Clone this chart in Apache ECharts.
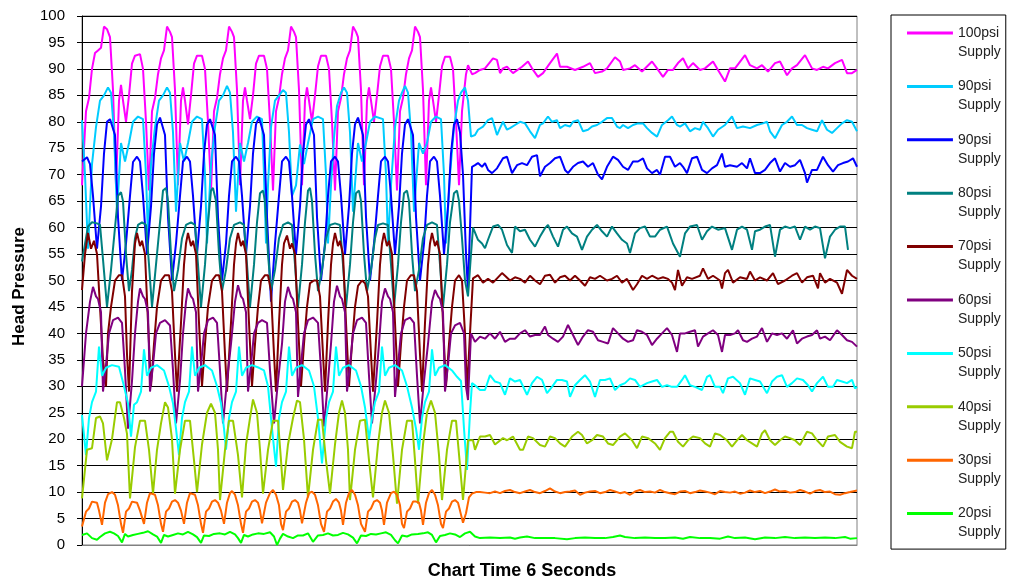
<!DOCTYPE html>
<html><head><meta charset="utf-8">
<script src="https://cdn.jsdelivr.net/npm/echarts@6/dist/echarts.min.js"></script>
<style>html,body{margin:0;padding:0;background:#fff}#c{width:1011px;height:584px}</style>
</head><body><div id="c"></div>
<script>
// Time axis: sample index over the 6 s window (0..775). Values: head pressure.
const timeMax = 775;
const yTicks = {min: 0, max: 100, step: 5};
const xTitle = 'Chart Time 6 Seconds';
const yTitle = 'Head Pressure';
const seriesNames = ['100psi Supply','90psi Supply','90psi Supply ','80psi Supply','70psi Supply','60psi Supply','50psi Supply','40psi Supply','30psi Supply','20psi Supply'];
const seriesColors = ['#FF00FF','#00CCFF','#0000FF','#008080','#800000','#800080','#00FFFF','#99CC00','#FF6600','#00FF00'];

const psi100 = [[0,68],[4,82],[7,84.5],[10,90],[13,93],[16,93.5],[19,94],[22,98],[25,97.5],[28,96],[31,86],[34,68],[37,84],[39,87],[41,84],[44,80],[47,85],[50,91],[53,92.5],[58,92.8],[61,90],[64,80],[67,67],
[70,82],[73,84.5],[76,89],[79,92],[82,93.5],[85,98],[88,97],[90,96],[93,86],[96,68],[99,84],[101,86.5],[103,84],[106,79.5],[109,85],[112,91],[115,92.5],[120,92.5],[123,90],[126,80],[129,67],
[132,82],[135,84.5],[138,89],[141,92],[144,93.5],[147,98],[150,97],[152,96],[155,86],[158,68],[161,84],[163,86.5],[165,84],[168,80.5],[171,85],[174,91],[177,92.5],[182,92.5],[185,90],[188,80],[191,67],
[194,82],[197,84.5],[200,89],[203,92],[206,93.5],[209,98],[212,97],[214,96],[217,86],[220,68],[223,84],[225,86.5],[227,84],[230,80],[233,85],[236,90.5],[239,92.5],[244,92.5],[247,90],[250,80],[253,67],
[256,82],[259,84.5],[262,89],[265,92],[268,93.5],[271,98],[274,97],[276,96],[279,86],[282,68],[285,84],[287,86.5],[289,84],[292,80],[295,85],[298,90.5],[301,92.5],[306,92.5],[309,90],[312,80],[315,67],
[318,82],[321,84.5],[324,89],[327,92],[330,93.5],[333,98],[336,97],[338,96],[341,86],[344,68],[347,84],[349,86.5],[351,84],[354,80],[357,85],[360,90.5],[363,92.3],[368,92.3],[371,90],[374,80],[377,68],
[380,82],[384,89],[386,90.7],[390,89],[393,89.2],[398,89.8],[403,90.1],[411,92],[415,91.7],[418,89.2],[421,90.1],[425,90.4],[431,89.2],[440,90.4],[446,91.4],[450,90.1],[456,88.5],[461,89.2],[468,91.1],[475,92.9],[478,90.4],[485,90.4],[493,89.8],[501,90.4],[508,91.1],[513,89.2],[520,89.5],[525,90.1],[533,92.2],[538,91.4],[541,89.8],[548,90.1],[553,90.7],[560,89.5],[570,91.4],[575,90.1],[581,88.5],[586,89.8],[591,89.8],[596,91.1],[601,92],[606,90.1],[611,91.1],[618,89.8],[623,90.1],[631,91.4],[636,89.8],[643,87.6],[648,90.1],[653,90.1],[663,92.6],[668,90.7],[675,90.1],[680,90.7],[686,89.5],[693,91.1],[698,91.4],[705,88.8],[710,90.1],[715,90.7],[723,92.6],[730,90.1],[735,89.8],[741,90.4],[746,90.1],[753,91.1],[760,91.7],[765,89.2],[770,89.2],[775,89.8]];

const psi90a = [[0,80.3],[3,70],[6,56],[10,72],[14,79],[18,84],[22,85],[26,86.5],[29,85.5],[32,78],[35,63],[39,76],[43,72.5],[47,76],[51,80],[56,81],[61,80.5],[64,70],[66,58],
[69,72],[73,79],[77,84],[81,85],[85,86.5],[88,85.5],[91,78],[94,63],[98,76],[102,72.5],[106,76],[110,80],[115,81],[120,80.5],[123,70],[125,57],
[129,72],[133,79],[137,84],[141,85],[145,86.8],[148,85.5],[151,78],[154,63],[158,76],[162,72.5],[166,76],[170,80],[175,81],[180,80.5],[182,70],[184,57],
[186,68],[189,79],[193,84],[197,85],[201,86],[204,85.5],[207,78],[210,66],[214,68],[218,75.7],[222,72],[226,76],[231,80.5],[236,81],[241,80.5],[244,70],[246,57],
[249,68],[252,77],[255,83],[259,85.5],[262,86.5],[265,85.5],[268,78],[271,63],[276,76],[280,72.5],[284,76],[288,80],[293,81],[301,80.5],[304,70],[306,57],
[309,68],[313,79],[317,84],[320,85.5],[323,86.8],[326,85.5],[329,78],[332,63],[337,76],[341,74],[345,76],[349,80],[354,81],[359,80.5],[362,70],[364,57],
[368,70],[372,79],[376,84],[379,85.5],[383,86.5],[386,84],[389,77.2],[393,77.5],[396,78.5],[401,79.1],[406,80.3],[410,80.7],[413,78.8],[415,77.5],[418,78.8],[421,80.0],[425,78.5],[428,78.8],[433,79.4],[438,80.0],[443,79.7],[448,78.2],[453,76.9],[458,79.4],[461,79.7],[466,81.0],[470,80.0],[475,80.3],[478,78.8],[483,79.4],[488,79.1],[491,80.0],[496,80.3],[501,78.2],[506,78.5],[510,79.1],[515,79.4],[520,80.0],[525,80.7],[530,80.7],[535,79.1],[538,78.8],[541,79.4],[546,78.8],[551,79.4],[556,79.7],[561,79.7],[565,78.8],[570,77.9],[575,77.2],[580,79.4],[586,80.3],[590,81.0],[595,79.4],[598,79.1],[603,79.7],[608,78.2],[613,78.8],[618,78.5],[621,80.0],[626,78.8],[631,77.2],[636,78.5],[643,79.4],[650,81.0],[655,78.8],[661,79.1],[668,78.8],[675,79.4],[681,79.7],[685,80.0],[688,78.2],[693,76.9],[700,79.4],[705,80.0],[710,81.0],[715,79.4],[720,79.4],[725,78.8],[730,78.5],[735,78.2],[740,80.3],[745,78.5],[750,77.9],[755,78.8],[760,79.7],[765,80.3],[770,80.0],[775,78.2]];

const psi90b = [[0,72.5],[5,73.3],[8,72],[11,66],[15,56],[19,64],[22,74],[25,80],[28,80.5],[30,80.3],[33,77.5],[36,62],[40,50],[44,57],[48,66],[51,72.4],[55,73.4],[58,72.5],[61,66],[65,55],[69,64],[72,74],[75,79.5],[78,80.8],[80,80.5],[83,77.5],[86,62],[90,50],[94,57],
[98,66],[101,72.5],[105,73.4],[108,72.5],[111,66],[115,55],[119,64],[122,74],[125,79.5],[128,80.5],[130,80.3],[133,77.5],[136,62],[140,50],[144,57],
[147,66],[150,72.5],[154,73.4],[157,72.5],[160,66],[164,55],[168,64],[171,74],[174,79.5],[177,80.8],[179,80.5],[182,77.5],[185,62],[189,46],[193,57],
[197,66],[200,72.5],[204,73.4],[207,72.5],[210,66],[214,55],[218,64],[221,74],[224,79.5],[227,80.5],[229,80.3],[232,77.5],[235,62],[239,50],[243,57],
[246,66],[249,72.5],[253,73.4],[256,72.5],[259,66],[263,55],[267,64],[270,74],[273,79.5],[276,80.8],[278,80.5],[281,77.5],[284,62],[288,50],[292,57],
[296,66],[299,72.5],[303,73.4],[306,72.5],[309,66],[313,55],[317,64],[320,74],[323,79.5],[326,80.5],[328,80.3],[331,77.5],[334,62],[338,50],[342,57],
[345,66],[348,72.5],[352,73.4],[355,72.5],[358,66],[362,55],[366,64],[369,74],[372,79.5],[375,80.5],[378,78],[381,70],[384,55],[386,48],[388,60],[390,71.5],
[393,71.8],[396,72.2],[400,71.5],[403,72.2],[406,70.9],[410,70.3],[415,71.2],[421,73.1],[425,73.4],[430,70.3],[435,71.8],[440,72.2],[445,71.8],[450,73.4],[455,73.7],[458,69.7],[463,71.5],[468,72.2],[473,73.1],[478,73.4],[483,70.9],[486,70.3],[491,71.5],[496,72.2],[501,72.5],[506,71.5],[511,72.2],[516,70.0],[520,69.1],[525,71.5],[531,73.4],[536,72.8],[541,71.5],[546,70.9],[551,72.5],[556,72.5],[561,73.1],[565,71.2],[570,70.3],[575,70.9],[578,70.0],[583,73.4],[588,73.4],[593,71.5],[598,72.2],[601,71.5],[605,70.3],[610,73.1],[615,73.4],[620,70.9],[625,70.3],[630,71.2],[635,71.8],[640,74.0],[643,71.5],[648,71.8],[655,71.5],[660,72.2],[665,71.2],[668,73.1],[673,70.3],[678,70.3],[683,70.9],[688,72.2],[693,73.1],[698,70.6],[703,72.2],[708,71.5],[713,71.8],[718,72.8],[723,70.3],[725,68.5],[730,70.9],[735,70.9],[741,73.4],[746,71.8],[751,70.6],[756,71.8],[761,72.2],[766,72.5],[771,73.1],[775,71.5]];

const psi80 = [[0,53.6],[6,60.2],[10,61],[15,60.8],[18,60.5],[21,54],[25,45],[29,52],[33,60],[36,66],[39,66.7],[41,65],[44,55],[47,48],[50,52],[53,58],[56,60.5],[60,61],[64,60.5],[67,53],[70,45],[74,53],[78,61],[81,67],[84,67.5],[86,65],[89,55],[92,48],[96,52],[100,58],[104,60.5],[109,61],[113,60.5],[116,53],[119,45],[123,53],[126,61],[129,67],[131,67.5],[134,65],[137,55],[140,48],[144,52],[148,58],[152,60.5],[158,61],[162,60.5],[165,53],[168,45],[172,53],[175,61],[178,66.5],[181,67],[183,65],[186,55],[189,48],[193,52],[197,58],[201,60.5],[206,61],[210,60.5],[213,53],[216,45],[220,53],[223,61],[226,67],[228,67.5],[230,65],[233,55],[236,48],[240,52],[244,58],[248,60.5],[253,60.8],[258,60.5],[261,53],[264,45],[268,53],[271,61],[274,66.5],[277,67],[279,65],[282,55],[285,48],[289,52],[293,58],[296,60.5],[301,60.8],[306,60.5],[309,53],[312,45],[316,53],[319,61],[322,66.5],[325,67],[327,65],[330,55],[333,48],[337,52],[341,58],[345,60.5],[350,61],[355,60.5],[358,53],[361,45],[365,53],[368,61],[372,66.5],[375,67],[377,65],[380,58],[383,50],[386,47],[389,55],[391,60],
[393,60.2],[396,57.7],[400,57.0],[403,56.1],[406,57.7],[411,60.2],[416,60.5],[420,59.6],[425,56.7],[430,55.2],[433,60.2],[438,59.3],[443,59.6],[448,57.7],[453,56.4],[458,58.3],[463,59.9],[466,60.5],[471,58.3],[476,56.4],[481,59.6],[485,60.2],[490,58.9],[495,58.3],[500,55.8],[505,58.3],[510,59.6],[515,60.5],[520,59.3],[525,58.3],[530,60.2],[535,58.9],[540,57.7],[545,57.0],[548,55.2],[553,58.9],[558,59.9],[563,60.2],[568,58.3],[573,58.3],[578,59.6],[585,60.2],[591,57.0],[598,54.5],[603,58.9],[608,60.2],[615,60.5],[620,57.7],[625,59.3],[630,60.2],[636,59.6],[643,59.9],[650,55.8],[655,59.6],[660,60.2],[665,59.6],[670,55.8],[673,59.3],[678,59.6],[683,60.2],[688,60.5],[693,54.5],[698,59.6],[703,60.2],[708,59.9],[713,60.2],[718,57.7],[723,60.2],[728,59.6],[733,60.2],[738,59.9],[743,54.2],[748,58.3],[753,59.6],[758,60.2],[763,60.2],[766,55.8]];

const psi70 = [[0,48.2],[3,55],[6,59],[9,56],[12,57.5],[15,55],[18,45],[21,35],[24,30],[26,40],[29,45],[33,50],[37,51],[40,51],[43,47],[45,36],[47,29],[50,48],[53,57],[55,59],[58,56.5],[60,57.5],[63,55],[66,42],[69,30],[72,38],[75,45],[79,50],[83,51],[87,51],[90,48],[93,36],[95,29],[99,42],[102,53],[104,57],[106,59],[109,56.5],[111,57.5],[114,55],[117,42],[120,30],[123,38],[126,45],[130,50],[134,51],[137,51],[140,48],[143,36],[145,29],[149,42],[152,53],[154,57],[156,59],[159,56.5],[161,57.5],[164,55],[167,42],[170,30],[173,38],[176,45],[179,50],[183,51],[186,51],[189,48],[192,36],[194,29],[197,42],[200,53],[202,57],[205,58.5],[208,56],[210,57],[213,55],[216,42],[219,30],[222,38],[225,45],[228,49.5],[232,50],[235,50],[238,47],[241,36],[243,29],[246,42],[249,53],[251,57],[253,59],[256,56.5],[258,57.5],[261,55],[264,42],[267,30],[270,38],[273,45],[276,49],[280,50],[283,49.5],[286,47],[289,36],[291,29],[295,42],[298,53],[300,57],[302,59],[305,56.5],[307,57.5],[310,55],[313,42],[316,30],[319,38],[322,45],[325,50],[329,51],[332,51],[335,48],[338,36],[340,29],[343,42],[346,53],[348,57],[350,59],[353,56.5],[355,57.5],[358,55],[361,42],[364,30],[367,38],[370,45],[373,50],[377,51],[380,50],[383,40],[385,29],[388,40],[391,50.4],
[396,51.0],[401,49.6],[406,50.3],[411,49.6],[416,50.6],[420,51.4],[423,50.9],[428,50.0],[433,50.6],[438,50.3],[443,49.6],[448,50.9],[453,50.0],[458,49.3],[463,50.9],[468,51.1],[473,49.6],[478,50.6],[483,50.9],[488,50.0],[493,50.9],[498,50.0],[503,49.0],[508,50.6],[513,50.3],[518,50.9],[525,50.0],[530,50.3],[535,50.9],[540,49.6],[545,50.3],[551,48.2],[555,49.3],[560,50.9],[565,50.3],[570,50.9],[576,50.3],[581,50.6],[586,50.3],[590,49.6],[593,48.2],[596,52.0],[600,49.0],[605,50.6],[610,50.3],[618,50.9],[621,52.3],[626,50.3],[631,50.9],[638,50.0],[640,48.5],[643,51.4],[646,52.0],[651,49.6],[658,50.6],[665,50.3],[668,51.7],[673,50.0],[678,50.6],[685,50.0],[691,51.4],[696,49.3],[703,50.0],[710,50.9],[715,51.4],[720,49.6],[725,50.6],[731,50.9],[736,48.5],[738,51.4],[743,49.6],[748,50.3],[755,49.6],[760,47.5],[765,52.0],[770,50.9],[775,50.3]];

const psi60 = [[0,30],[4,40],[8,46],[11,48.8],[14,47],[16,46.5],[19,44],[21,29],[24,34],[27,40],[31,42.5],[36,43],[40,42],[43,33],[46,22],[50,31],[53,40],[56,46],[58,48.5],[61,47],[63,46.5],[66,44],[68,29],[71,34],[74,40],[78,42],[83,42.5],[88,41.5],[91,33],[94,23],[98,31],[101,40],[104,46],[106,48.5],[109,47],[111,46.5],[114,44],[116,29],[119,34],[122,40],[126,42.5],[131,43],[135,42],[138,33],[141,23],[145,31],[149,38],[153,46],[156,49.1],[159,47],[161,46.5],[164,44],[166,29],[169,34],[172,40],[176,42],[180,42.5],[185,42],[188,33],[192,23],[196,31],[200,38],[203,46],[206,48.8],[209,47],[211,46.5],[214,44],[216,28],[219,34],[222,40],[226,42.5],[231,43],[236,42],[239,33],[242,22.4],[246,31],[249,38],[252,46],[255,49],[258,47],[260,46.5],[263,44],[265,29],[268,34],[271,40],[275,42.5],[280,43],[284,42],[287,32],[290,23],[294,31],[297,38],[300,46],[303,48.5],[306,47],[308,46.5],[311,44],[313,28],[316,34],[319,40],[323,42.5],[328,43],[332,42],[335,32],[338,23],[342,31],[346,38],[350,46],[353,48.2],[356,47],[358,46.5],[361,44],[363,29],[366,34],[369,40],[373,41.5],[378,42],[382,40],[384,30],[386,27.4],[389,40],
[393,38.4],[398,39.4],[403,39.0],[408,40.0],[413,39.0],[418,40.3],[423,38.4],[428,39.0],[433,39.0],[438,40.0],[443,40.6],[448,39.4],[453,39.7],[458,39.7],[463,41.3],[466,39.7],[471,39.0],[476,38.4],[481,39.4],[486,41.6],[491,39.7],[496,37.8],[501,39.4],[506,40.6],[511,40.3],[516,38.7],[521,38.4],[526,38.1],[531,41.0],[536,40.0],[541,39.0],[546,38.4],[551,38.7],[555,40.6],[560,40.3],[565,39.7],[570,37.8],[575,39.0],[580,40.0],[585,41.0],[590,39.7],[595,36.5],[598,40.0],[603,40.0],[608,40.3],[613,40.6],[616,37.5],[621,39.4],[626,40.0],[631,40.6],[636,39.7],[640,36.5],[643,39.7],[648,39.7],[653,40.0],[656,40.6],[661,38.7],[665,38.4],[670,39.0],[675,39.4],[680,41.0],[685,38.4],[690,40.0],[695,39.7],[700,40.0],[705,39.0],[711,40.6],[715,38.1],[720,39.0],[725,39.4],[730,39.7],[735,40.6],[738,39.0],[743,39.4],[748,38.7],[755,40.6],[760,39.7],[765,38.7],[770,38.4],[775,37.5]];

const psi50 = [[0,24.6],[4,17],[7,24],[10,27],[14,29],[17,37.5],[20,32],[24,33.5],[30,34],[37,33.7],[42,30],[46,26.8],[49,20.5],[52,26.5],[55,27],[59,29],[62,37],[65,32],[69,33.5],[75,34],[82,33],[87,30],[91,26.8],[94,22],[97,17],[100,24],[103,27],[107,29],[110,37.5],[113,32],[117,33.5],[123,34],[130,33],[135,30],[139,26.8],[142,22],[144,18],[147,24],[150,27],[154,29],[157,37.5],[160,32],[164,33.5],[170,34],[177,33.5],[182,33],[186,30],[190,22],[194,14.8],[197,24],[200,27],[204,29],[207,37.5],[210,32],[214,33.5],[220,34],[227,33],[232,30],[236,24],[240,15.4],[244,24],[247,27],[251,29],[254,37.5],[257,32],[261,33.5],[267,34],[274,33],[279,30],[283,26],[287,20],[290,24],[293,27],[297,29],[300,37.5],[303,32],[307,33.5],[313,34],[320,33],[325,30],[330,26],[334,22],[337,18],[340,24],[343,27],[347,29],[350,37],[353,32],[357,33.5],[363,34],[370,33],[375,31.8],[379,31],[382,22],[385,14.2],[388,25],[390,30.6],
[393,30.2],[398,29.3],[403,29.3],[408,32.1],[413,30.9],[418,30.6],[423,28.4],[428,31.5],[433,30.9],[438,31.2],[445,28.4],[450,30.6],[455,31.8],[460,31.2],[465,28.7],[470,29.9],[475,31.2],[480,31.2],[485,30.9],[488,28.0],[493,30.2],[498,31.2],[503,32.1],[508,30.9],[513,28.0],[518,31.2],[523,31.2],[528,31.5],[533,29.3],[538,30.2],[543,30.6],[548,31.5],[553,31.2],[558,29.9],[565,30.6],[570,30.9],[575,31.2],[580,29.9],[585,30.2],[590,29.9],[595,29.9],[600,31.2],[603,32.1],[608,30.2],[613,29.9],[620,29.3],[625,31.8],[628,32.1],[633,29.9],[638,29.9],[641,28.7],[646,31.5],[651,31.8],[658,30.6],[663,28.4],[668,31.5],[673,31.2],[678,30.9],[685,28.7],[690,30.9],[695,31.8],[700,32.1],[705,29.9],[710,30.6],[715,31.5],[721,31.2],[726,30.2],[730,29.0],[735,30.6],[741,31.8],[746,29.9],[751,29.9],[755,31.2],[760,30.9],[765,30.6],[770,31.2],[773,29.6],[775,29.9]];

const psi40 = [[0,8.8],[5,18],[10,18.3],[14,24],[18,24.3],[21,23],[25,16],[30,20],[35,27],[38,27],[42,24],[45,21],[48,8.8],[53,18.5],[58,23.5],[63,23.5],[67,18],[71,9.7],[75,18],[79,23],[83,27],[86,26],[90,20],[93,9.7],[98,18],[103,23.5],[108,23.5],[112,16],[115,10],[120,19],[125,25],[129,26.7],[133,25],[136,18],[138,8.5],[143,18],[147,23.5],[151,23.5],[156,17],[160,9],[164,19],[168,24],[171,27.5],[175,25],[178,18],[181,9.7],[186,18],[191,23.5],[196,23.5],[199,16],[201,10.4],[206,19],[211,24],[215,27.3],[218,27],[222,20],[226,9],[231,18],[236,23.7],[240,23.7],[244,16],[248,9.7],[253,19],[257,25],[260,27.3],[263,25],[266,18],[268,8.5],[273,18],[278,23.5],[283,23.7],[287,16],[291,9],[296,19],[300,25],[303,27.3],[307,25],[311,17],[315,7.8],[320,18],[325,23.5],[330,23.5],[333,16],[336,7.8],[341,19],[345,25],[349,27.3],[353,25],[357,17],[360,8.5],[365,18],[370,23.5],[374,23.5],[378,15],[381,8.5],[386,19.8],
[391,19.8],[393,18.0],[398,20.5],[403,20.5],[408,20.8],[413,19.0],[415,18.9],[421,20.2],[425,19.8],[431,20.5],[438,18.0],[441,18.0],[446,20.5],[451,20.2],[458,18.9],[463,18.6],[468,20.5],[473,20.2],[478,19.2],[483,18.6],[490,20.5],[496,21.4],[500,20.8],[505,19.2],[510,19.8],[515,20.8],[521,20.5],[526,19.2],[531,18.9],[538,20.5],[543,21.1],[550,19.8],[555,18.3],[560,20.5],[566,20.2],[573,19.2],[578,18.0],[583,20.2],[588,21.4],[591,21.4],[596,19.5],[601,18.6],[606,19.8],[611,20.5],[618,20.2],[623,19.2],[628,18.6],[633,21.1],[638,20.8],[645,19.8],[650,18.6],[655,19.8],[660,20.8],[665,19.8],[670,19.2],[675,18.6],[680,21.1],[683,21.7],[688,19.8],[693,18.9],[698,19.8],[703,20.5],[708,20.2],[713,19.8],[718,18.9],[725,21.4],[730,21.1],[735,19.8],[741,18.6],[746,20.5],[753,20.8],[758,19.5],[765,18.6],[770,18.3],[773,21.4],[775,21.4]];

const psi30 = [[0,3.5],[4,6.3],[7,6.9],[10,8.2],[12,8.5],[15,8.0],[17,6.5],[20,3.8],[23,8],[26,9.6],[30,10],[33,9.5],[36,7.5],[39,4],[41,2.3],[44,6.3],[47,6.9],[50,8.2],[52,8.5],[55,8.0],[58,6.5],[62,4.0],[65,8],[68,9.8],[70,10],[73,9.5],[76,7.5],[79,4],[81,2.5],[84,6.3],[87,6.9],[90,8.2],[93,8.5],[96,8.0],[99,6.5],[102,4.0],[105,8],[108,9.8],[110,10],[113,9.5],[116,7.5],[119,4],[121,2.3],[124,6.3],[127,6.9],[130,8.2],[133,8.5],[136,8.0],[139,6.5],[142,4.0],[145,8],[148,9.8],[150,10.2],[153,9.5],[156,7.5],[159,4],[161,2.3],[164,6.3],[167,6.9],[170,8.2],[173,8.5],[176,8.0],[178,6.5],[180,4.1],[184,8],[188,9.8],[191,10.4],[194,9.5],[197,7.5],[199,4],[201,2.8],[204,6.3],[207,6.9],[210,8.2],[213,8.5],[216,8.0],[218,6.5],[220,4.1],[224,8],[227,9.8],[230,10.1],[233,9.5],[236,7.5],[239,4],[242,2.5],[245,6.3],[248,6.9],[251,8.2],[254,8.7],[257,8.0],[259,6.5],[261,3.8],[264,8],[267,9.8],[270,10.4],[273,9.5],[276,7.5],[279,4],[283,2.5],[286,6.3],[289,6.9],[292,8.2],[295,8.5],[298,8.0],[300,6.5],[302,3.8],[305,8],[309,9.8],[312,10.1],[315,9.5],[318,7.5],[320,4],[322,3.2],[325,6.3],[328,6.9],[331,8.2],[334,8.2],[337,8.0],[339,6.5],[341,3.8],[344,8],[347,9.8],[350,10.4],[353,9.5],[356,7.5],[359,4],[361,3.2],[364,6.3],[367,6.9],[370,8.2],[373,8.5],[376,8],[378,6.5],[381,4.2],[384,6],[387,9.0],[390,9.7],
[394,10.0],[398,10.0],[403,9.9],[408,9.8],[413,10.1],[418,9.8],[423,10.2],[428,10.4],[433,10.0],[438,9.8],[443,10.1],[448,10.4],[453,10.0],[458,9.8],[463,10.2],[468,10.7],[473,10.1],[478,9.8],[483,10.0],[488,10.1],[493,10.3],[498,9.5],[503,9.9],[508,10.1],[513,10.2],[518,9.8],[523,10.0],[528,10.4],[533,10.1],[538,9.8],[543,10.0],[548,9.5],[553,10.1],[558,10.4],[563,10.0],[568,10.1],[573,9.9],[578,10.4],[583,10.0],[588,9.8],[593,9.6],[598,10.1],[603,10.2],[608,9.8],[613,10.0],[618,10.3],[623,10.1],[628,9.9],[633,9.6],[638,10.2],[643,10.0],[648,9.9],[653,10.1],[658,9.7],[663,9.9],[668,10.3],[673,10.0],[678,10.2],[683,9.8],[688,10.1],[693,10.5],[698,10.1],[703,10.2],[708,9.9],[713,10.0],[718,10.4],[723,10.1],[728,9.7],[733,10.2],[738,10.4],[743,10.0],[748,10.1],[753,9.6],[758,9.5],[763,9.8],[768,10.0],[775,10.3]];

const psi20 = [[0,1.9],[5,2.2],[10,1.3],[15,1.0],[18,1.5],[23,2.2],[28,2.5],[32,2.2],[36,1.7],[40,0.5],[43,2.1],[46,1.6],[51,1.9],[56,2.1],[61,2.3],[66,2.6],[71,2.0],[75,1.6],[79,0.4],[82,1.9],[86,1.6],[91,1.9],[96,2.2],[101,2.0],[106,2.5],[111,2.0],[115,1.5],[119,0.4],[122,1.8],[127,1.7],[132,2.1],[138,2.2],[143,2.0],[148,2.5],[153,2.0],[156,1.3],[159,0.4],[162,1.9],[166,1.6],[171,2.0],[176,2.2],[182,2.1],[188,2.4],[192,1.6],[195,0.0],[198,1.2],[201,2.1],[206,1.6],[211,1.3],[216,1.8],[221,1.8],[226,2.2],[231,0.6],[236,1.8],[241,1.9],[246,2.2],[251,1.8],[256,1.9],[261,2.3],[266,2.0],[271,1.4],[275,0.3],[279,1.8],[284,1.7],[289,2.1],[294,2.0],[299,2.2],[304,2.4],[309,1.9],[313,0.9],[316,0.3],[320,1.8],[325,1.6],[330,2.0],[336,2.1],[341,2.2],[346,2.4],[350,1.9],[354,0.5],[358,1.7],[363,1.9],[368,2.2],[373,2.0],[378,1.5],[383,2.2],[388,2.5],[393,1.6],
[398,1.3],[408,1.4],[418,1.3],[428,1.4],[433,1.2],[438,1.4],[445,1.6],[453,1.3],[463,1.3],[473,1.3],[485,1.1],[493,1.3],[503,1.4],[513,1.3],[523,1.3],[531,1.5],[538,1.8],[543,1.5],[553,1.3],[563,1.4],[573,1.3],[583,1.3],[593,1.4],[601,1.2],[608,1.5],[618,1.3],[628,1.3],[638,1.2],[646,1.6],[653,1.3],[663,1.4],[673,1.1],[683,1.4],[693,1.3],[703,1.5],[713,1.3],[723,1.4],[733,1.3],[743,1.4],[753,1.3],[763,1.5],[768,1.2],[775,1.3]];

const allData = [psi100, psi90a, psi90b, psi80, psi70, psi60, psi50, psi40, psi30, psi20];

const FONT = 'Liberation Sans, Arial, sans-serif';
const chart = echarts.init(document.getElementById('c'), null, {renderer: 'canvas'});
chart.setOption({
  animation: false,
  backgroundColor: '#ffffff',
  color: seriesColors,
  title: {
    text: xTitle, left: 522, top: 562, textAlign: 'center', padding: 0,
    textStyle: {fontFamily: FONT, fontSize: 18, fontWeight: 'bold', color: '#000'}
  },
  grid: {left: 82, right: 154, top: 16, bottom: 39, containLabel: false, outerBoundsMode: 'none',
    show: true, borderColor: '#808080', borderWidth: 1, backgroundColor: '#ffffff'},
  xAxis: {
    type: 'value', min: 0, max: timeMax,
    axisLine: {show: true, lineStyle: {color: '#808080', width: 1}},
    axisTick: {show: false}, axisLabel: {show: false}, splitLine: {show: false}
  },
  yAxis: {
    type: 'value', min: yTicks.min, max: yTicks.max, interval: yTicks.step,
    name: yTitle, nameLocation: 'middle', nameGap: 54, nameRotate: 90,
    nameTextStyle: {fontFamily: FONT, fontSize: 17, fontWeight: 'bold', color: '#000', padding: [0, 12, 0, 0]},
    axisLine: {show: true, lineStyle: {color: '#000', width: 1}},
    axisTick: {show: true, inside: false, length: 5, lineStyle: {color: '#000'}},
    axisLabel: {fontFamily: FONT, fontSize: 15, color: '#000', margin: 17},
    splitLine: {show: true, lineStyle: {color: '#000', width: 1}}
  },
  legend: {
    orient: 'vertical', left: 891, top: 15,
    padding: [8.5, 5, 7, 16],
    borderColor: '#000', borderWidth: 1,
    itemWidth: 46, itemHeight: 38, itemGap: 15.4,
    icon: 'path://M0,8L46,8L46,11L0,11Z M0,0L0.05,0L0.05,0.05Z M0,38L0.05,38L0.05,38.05Z',
    data: seriesNames,
    formatter: n => n.trim().split(' ').join('\n'),
    textStyle: {fontFamily: FONT, fontSize: 14, lineHeight: 19, color: '#222'}
  },
  series: allData.map((d, i) => ({
    name: seriesNames[i], type: 'line', data: d,
    showSymbol: false, symbol: 'none',
    lineStyle: {width: 2, color: seriesColors[i]},
    itemStyle: {color: seriesColors[i]},
    z: 2 + i
  }))
});
</script></body></html>
